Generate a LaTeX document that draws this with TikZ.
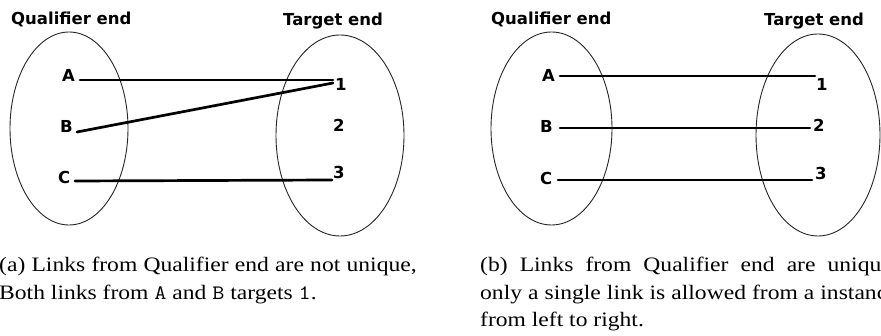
\documentclass[tikz,border=0pt]{standalone}
\usepackage{fontspec}
\setmainfont{Liberation Serif}
\newfontfamily\diagfont{DejaVu Sans}
\begin{document}
\begin{tikzpicture}[x=1pt,y=-1pt,
  lbl/.style={font=\diagfont\bfseries\fontsize{16.5}{19}\selectfont, inner sep=0pt, anchor=base west},
  link/.style={line width=2.7pt, line cap=round},
  setline/.style={line width=0.9pt, black!85},
  captxt/.style={inner sep=0pt, anchor=base west}]
\useasboundingbox (0,0) rectangle (881,336);
\clip (0,0) rectangle (881,336);
\fill[white] (0,0) rectangle (881,336);

% ---------- panel (a) ----------
\draw[setline] (69,128.5) ellipse [x radius=59pt, y radius=96.5pt];
\draw[setline] (340,135.5) ellipse [x radius=64pt, y radius=100.5pt];
\node[lbl] (aQ) at (11,25) {Qualifier end};
\node[lbl] (aT) at (283,26) {Target end};
\node[lbl] (aA) at (62,82) {A};
\node[lbl] (aB) at (60,133) {B};
\node[lbl] (aC) at (58,184) {C};
\node[lbl] (a1) at (335,91) {1};
\node[lbl] (a2) at (333,132) {2};
\node[lbl] (a3) at (333,179) {3};
\draw[link] ([shift={(18,-2)}]aA.base west) -- ([shift={(-2,-11)}]a1.base west);
\draw[link] ([shift={(17,-1)}]aB.base west) -- ([shift={(-2,-8)}]a1.base west);
\draw[link] ([shift={(17,-3)}]aC.base west) -- ([shift={(-1,1)}]a3.base west);

% ---------- panel (b) ----------
\draw[setline] (551.5,128.5) ellipse [x radius=60.5pt, y radius=96.5pt];
\draw[setline] (818,135) ellipse [x radius=62pt, y radius=101pt];
\node[lbl] (bQ) at (491,25) {Qualifier end};
\node[lbl] (bT) at (764,26) {Target end};
\node[lbl] (bA) at (542,82) {A};
\node[lbl] (bB) at (540,133) {B};
\node[lbl] (bC) at (540,185) {C};
\node[lbl] (b1) at (816,91) {1};
\node[lbl] (b2) at (813,132) {2};
\node[lbl] (b3) at (815,180) {3};
\draw[link] ([shift={(18,-6)}]bA.base west) -- ([shift={(-1,-15)}]b1.base west);
\draw[link] ([shift={(20,-5)}]bB.base west) -- ([shift={(-3,-4)}]b2.base west);
\draw[link] ([shift={(18,-5)}]bC.base west) -- ([shift={(-3,0)}]b3.base west);

% ---------- captions ----------
\node[captxt] (capa) at (-1,272) {\scalebox{1.15}[1]{\parbox[t]{363pt}{\fontsize{20.5}{27.3}\selectfont
(a) Links from Qualifier end are not unique,\linebreak
Both links from \texttt{A} and \texttt{B} targets \texttt{1}.}}};
\node[captxt] (capb) at (480,272) {\scalebox{1.15}[1]{\parbox[t]{363pt}{\fontsize{20.5}{27.3}\selectfont
(b) Links from Qualifier end are unique,\linebreak
only a single link is allowed from a instance\linebreak
from left to right.}}};
\end{tikzpicture}
\end{document}
